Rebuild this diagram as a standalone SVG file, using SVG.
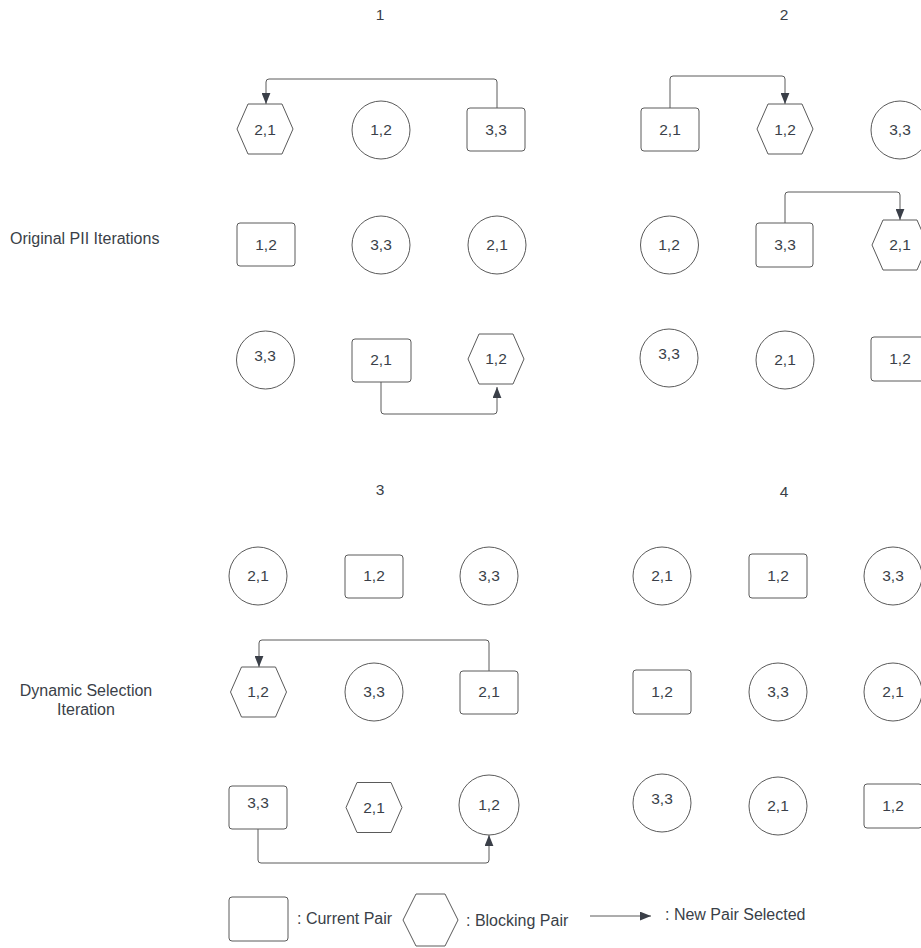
<svg xmlns="http://www.w3.org/2000/svg" width="921" height="948" viewBox="0 0 921 948">
<style>
.s{fill:#fff;stroke:#5a5a5a;stroke-width:1}
.t{font-family:"Liberation Sans",Arial,sans-serif;font-size:15.5px;fill:#3a3f48;text-anchor:middle}
.l{font-family:"Liberation Sans",Arial,sans-serif;font-size:16px;fill:#3a3f48}
.lc{font-family:"Liberation Sans",Arial,sans-serif;font-size:16px;fill:#3a3f48;text-anchor:middle}
.c{fill:none;stroke:#5a5a5a;stroke-width:1}
</style>
<defs>
<marker id="ah" viewBox="0 0 10 8" refX="10" refY="4" markerWidth="11" markerHeight="9" markerUnits="userSpaceOnUse" orient="auto">
<path d="M0,0 L10,4 L0,8 z" fill="#3a3f48"/>
</marker>
<polygon id="hex" points="-28,0 -17,-25 17,-25 28,0 17,25 -17,25"/>
</defs>
<rect width="921" height="948" fill="#fff"/>
<g id="titles">
<text class="t" x="380" y="20">1</text>
<text class="t" x="784" y="20">2</text>
<text class="t" x="380" y="495">3</text>
<text class="t" x="784" y="497">4</text>
<text class="l" x="10" y="244">Original PII Iterations</text>
<text class="lc" x="86" y="696">Dynamic Selection</text>
<text class="lc" x="86" y="715">Iteration</text>
</g>
<g id="connectors">
<path class="c" d="M497,108 V82 Q497,79 494,79 H269 Q266,79 266,82 V104" marker-end="url(#ah)"/>
<path class="c" d="M381,382 V411 Q381,414 384,414 H494 Q497,414 497,411 V387" marker-end="url(#ah)"/>
<path class="c" d="M670,108 V79 Q670,76 673,76 H782 Q785,76 785,79 V104" marker-end="url(#ah)"/>
<path class="c" d="M785,223 V195 Q785,192 788,192 H897 Q900,192 900,195 V220" marker-end="url(#ah)"/>
<path class="c" d="M489,671 V643 Q489,640 486,640 H262 Q259,640 259,643 V667" marker-end="url(#ah)"/>
<path class="c" d="M258,829 V860 Q258,863 261,863 H486 Q489,863 489,860 V835" marker-end="url(#ah)"/>
</g>
<!-- Panel 1 -->
<g id="p1-r1-a"><use href="#hex" class="s" x="265" y="129"/><text class="t" x="265" y="135">2,1</text></g>
<g id="p1-r1-b"><circle class="s" cx="381" cy="130" r="29"/><text class="t" x="381" y="135">1,2</text></g>
<g id="p1-r1-c"><rect class="s" x="467" y="108" width="58" height="43" rx="3"/><text class="t" x="496" y="135">3,3</text></g>
<g id="p1-r2-a"><rect class="s" x="237" y="223" width="58" height="43" rx="3"/><text class="t" x="266" y="250">1,2</text></g>
<g id="p1-r2-b"><circle class="s" cx="381" cy="245" r="29"/><text class="t" x="381" y="250">3,3</text></g>
<g id="p1-r2-c"><circle class="s" cx="497" cy="245" r="29"/><text class="t" x="497" y="250">2,1</text></g>
<g id="p1-r3-a"><circle class="s" cx="265.5" cy="360" r="29"/><text class="t" x="265" y="361">3,3</text></g>
<g id="p1-r3-b"><rect class="s" x="352" y="339" width="59" height="43" rx="3"/><text class="t" x="381" y="365">2,1</text></g>
<g id="p1-r3-c"><use href="#hex" class="s" x="496" y="359"/><text class="t" x="496" y="364">1,2</text></g>
<!-- Panel 2 -->
<g id="p2-r1-a"><rect class="s" x="641" y="108" width="58" height="43" rx="3"/><text class="t" x="670" y="135">2,1</text></g>
<g id="p2-r1-b"><use href="#hex" class="s" x="785" y="129"/><text class="t" x="785" y="135">1,2</text></g>
<g id="p2-r1-c"><circle class="s" cx="900" cy="130" r="29"/><text class="t" x="900" y="135">3,3</text></g>
<g id="p2-r2-a"><circle class="s" cx="669.5" cy="245" r="29"/><text class="t" x="669" y="250">1,2</text></g>
<g id="p2-r2-b"><rect class="s" x="756" y="223" width="57" height="44" rx="3"/><text class="t" x="785" y="250">3,3</text></g>
<g id="p2-r2-c"><use href="#hex" class="s" x="900" y="245"/><text class="t" x="900" y="250">2,1</text></g>
<g id="p2-r3-a"><circle class="s" cx="669" cy="358" r="29"/><text class="t" x="669" y="359">3,3</text></g>
<g id="p2-r3-b"><circle class="s" cx="785" cy="360" r="29"/><text class="t" x="785" y="365">2,1</text></g>
<g id="p2-r3-c"><rect class="s" x="871" y="337" width="58" height="44" rx="3"/><text class="t" x="900" y="364">1,2</text></g>
<!-- Panel 3 -->
<g id="p3-r1-a"><circle class="s" cx="258" cy="576" r="29"/><text class="t" x="258" y="581">2,1</text></g>
<g id="p3-r1-b"><rect class="s" x="345" y="555" width="58" height="43" rx="3"/><text class="t" x="374" y="581">1,2</text></g>
<g id="p3-r1-c"><circle class="s" cx="489" cy="576" r="29"/><text class="t" x="489" y="581">3,3</text></g>
<g id="p3-r2-a"><use href="#hex" class="s" x="258.5" y="692"/><text class="t" x="258" y="697">1,2</text></g>
<g id="p3-r2-b"><circle class="s" cx="374" cy="692" r="29"/><text class="t" x="374" y="697">3,3</text></g>
<g id="p3-r2-c"><rect class="s" x="460" y="671" width="58" height="43" rx="3"/><text class="t" x="489" y="697">2,1</text></g>
<g id="p3-r3-a"><rect class="s" x="229" y="786" width="58" height="43" rx="3"/><text class="t" x="258" y="808">3,3</text></g>
<g id="p3-r3-b"><use href="#hex" class="s" x="374" y="807.5"/><text class="t" x="374" y="813">2,1</text></g>
<g id="p3-r3-c"><circle class="s" cx="489" cy="805" r="30"/><text class="t" x="489" y="810">1,2</text></g>
<!-- Panel 4 -->
<g id="p4-r1-a"><circle class="s" cx="662" cy="576" r="29"/><text class="t" x="662" y="581">2,1</text></g>
<g id="p4-r1-b"><rect class="s" x="749" y="554" width="58" height="44" rx="3"/><text class="t" x="778" y="581">1,2</text></g>
<g id="p4-r1-c"><circle class="s" cx="893" cy="576" r="29"/><text class="t" x="893" y="581">3,3</text></g>
<g id="p4-r2-a"><rect class="s" x="633" y="670" width="58" height="44" rx="3"/><text class="t" x="662" y="697">1,2</text></g>
<g id="p4-r2-b"><circle class="s" cx="778" cy="692" r="29"/><text class="t" x="778" y="697">3,3</text></g>
<g id="p4-r2-c"><circle class="s" cx="893" cy="692" r="29"/><text class="t" x="893" y="697">2,1</text></g>
<g id="p4-r3-a"><circle class="s" cx="662" cy="803" r="29"/><text class="t" x="662" y="804">3,3</text></g>
<g id="p4-r3-b"><circle class="s" cx="778" cy="806" r="29"/><text class="t" x="778" y="811">2,1</text></g>
<g id="p4-r3-c"><rect class="s" x="864" y="784" width="58" height="44" rx="3"/><text class="t" x="893" y="811">1,2</text></g>
<!-- Legend -->
<g id="legend-current"><rect class="s" x="229" y="897" width="59" height="44" rx="3"/><text class="l" x="297" y="924">: Current Pair</text></g>
<g id="legend-blocking"><polygon class="s" points="403,920 416,894 445,894 458,920 445,946 416,946"/><text class="l" x="466" y="926">: Blocking Pair</text></g>
<g id="legend-arrow"><line class="c" x1="590" y1="916" x2="651" y2="916" marker-end="url(#ah)"/><text class="l" x="665" y="920">: New Pair Selected</text></g>
</svg>
